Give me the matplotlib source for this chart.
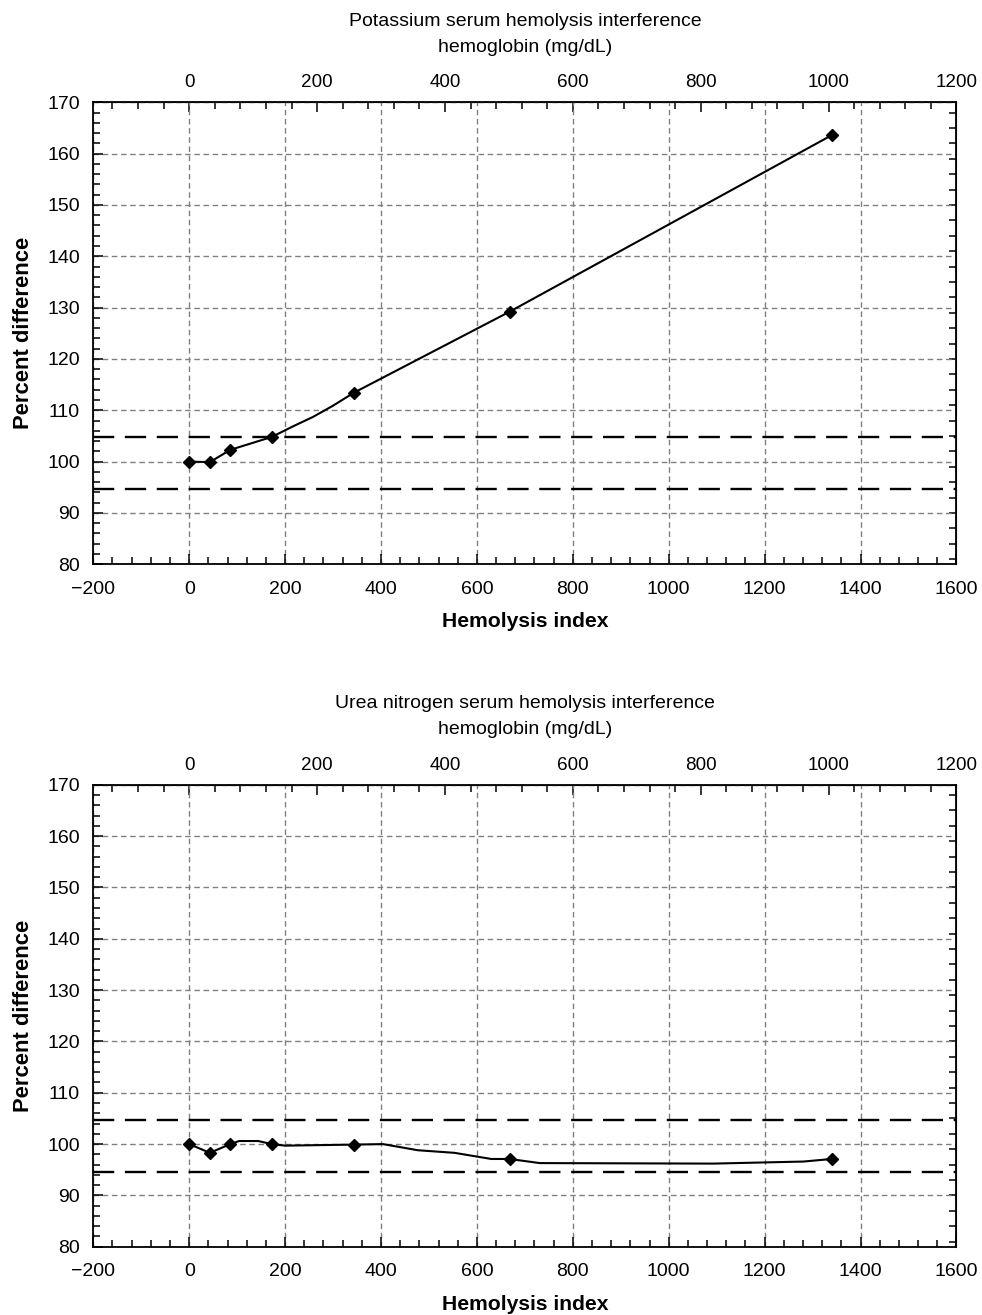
import matplotlib
matplotlib.use("Agg")
import matplotlib.pyplot as plt
from matplotlib.ticker import MultipleLocator, NullFormatter

plt.rcParams['font.family'] = ['Liberation Sans', 'DejaVu Sans']

# Measured points: hemolysis index vs percent of the unspiked result
hemolysis_index = [0, 43, 86, 172, 343, 668, 1340]
potassium_pct = [100, 99.9, 102.3, 104.8, 113.4, 129.2, 163.6]
urea_pct = [100, 98.3, 100, 100, 99.9, 97.1, 97.1]

# Trend lines drawn through the points
potassium_line_x = [0, 43, 86, 172, 215, 258, 300, 343, 668, 1340]
potassium_line_y = [100, 99.9, 102.3, 104.8, 106.8, 108.7, 110.9, 113.4, 129.2, 163.6]
urea_line_x = [0, 43, 86, 104, 144, 172, 200, 343, 404, 477, 553, 630, 668, 731, 1093, 1281, 1340]
urea_line_y = [100, 98.3, 100, 100.6, 100.6, 100, 99.7, 99.9, 100, 98.8, 98.3, 97.1, 97.1, 96.3, 96.2, 96.6, 97.1]

# Allowable interference limits
upper_limit = 104.7
lower_limit = 94.6

# hemoglobin (mg/dL) per unit of hemolysis index
hb_per_index = 0.75

titles = ['Potassium serum hemolysis interference',
          'Urea nitrogen serum hemolysis interference']


def draw_panel(ax, title, line_x, line_y, pts_y):
    ax.set_xlim(-200, 1600)
    ax.set_ylim(80, 170)
    ax.xaxis.set_major_locator(MultipleLocator(200))
    ax.xaxis.set_minor_locator(MultipleLocator(40))
    ax.yaxis.set_major_locator(MultipleLocator(10))
    ax.yaxis.set_minor_locator(MultipleLocator(2))
    ax.grid(True, which='major', color='#808080', linestyle=(0, (4, 2.6)), linewidth=1.0)
    ax.set_axisbelow(True)

    for lim in (upper_limit, lower_limit):
        ax.axhline(lim, color='black', linewidth=1.7, linestyle=(0, (9, 4.5)), zorder=3)

    ax.plot(line_x, line_y, color='black', linewidth=1.5, zorder=4)
    ax.plot(hemolysis_index, pts_y, 'D', color='black', markersize=6.6, zorder=5, clip_on=False)

    ax.tick_params(which='both', direction='in', top=False, right=False, labelsize=14)
    ax.tick_params(axis='x', which='both', pad=12)
    ax.tick_params(axis='y', which='both', pad=9.5)
    ax.tick_params(which='major', length=7, width=1.1)
    ax.tick_params(which='minor', length=5, width=1.1)
    for sp in ax.spines.values():
        sp.set_linewidth(1.3)

    ax.set_xlabel('Hemolysis index', fontsize=15.2, fontweight='bold')
    ax.xaxis.set_label_coords(0.5, -0.104)
    ax.set_ylabel('Percent difference', fontsize=15.8, fontweight='bold')
    ax.yaxis.set_label_coords(-0.069, 0.5)

    # hemoglobin scale along the top
    secx = ax.secondary_xaxis('top', functions=(lambda x: x * hb_per_index,
                                                 lambda x: x / hb_per_index))
    secx.xaxis.set_major_locator(MultipleLocator(200))
    secx.xaxis.set_minor_locator(MultipleLocator(40))
    secx.tick_params(which='both', direction='in', labelsize=13.6, pad=8, width=1.1)
    secx.tick_params(which='major', length=7)
    secx.tick_params(which='minor', length=5)
    secx.set_xlabel(title + '\nhemoglobin (mg/dL)', fontsize=14, linespacing=1.7, labelpad=16)

    # unlabelled ticks on the right edge
    secy = ax.secondary_yaxis('right')
    secy.yaxis.set_major_locator(MultipleLocator(3))
    secy.yaxis.set_major_formatter(NullFormatter())
    secy.tick_params(direction='in', length=5, width=1.1)


fig = plt.figure(figsize=(9.82, 13.15), dpi=100)
ax1 = fig.add_axes([0.095, 0.5709, 0.879, 0.3513])
ax2 = fig.add_axes([0.095, 0.0519, 0.879, 0.3513])

draw_panel(ax1, titles[0], potassium_line_x, potassium_line_y, potassium_pct)
draw_panel(ax2, titles[1], urea_line_x, urea_line_y, urea_pct)

fig.savefig('out.png', dpi=100, facecolor='white')
